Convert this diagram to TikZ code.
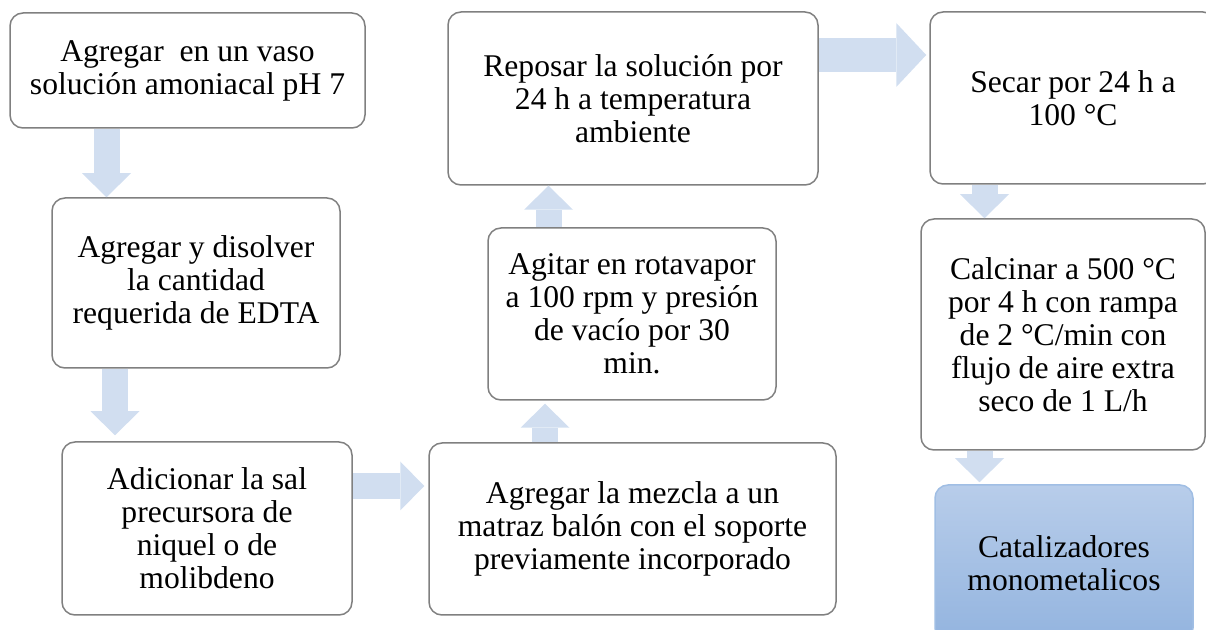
\documentclass[tikz,border=0pt]{standalone}
\usepackage{fontspec}
\setmainfont{Liberation Serif}
\usetikzlibrary{arrows.meta,shadings}
\definecolor{flechaazul}{RGB}{209,222,240}
\definecolor{azularriba}{RGB}{184,205,234}
\definecolor{azulabajo}{RGB}{147,180,223}
\definecolor{azulborde}{RGB}{160,190,228}
\tikzset{
  caja/.style={draw=black!50, line width=0.75pt, fill=white, rounded corners=6.5pt,
    align=center, inner sep=2pt, font=\fontsize{15.8}{16.5}\selectfont},
  flecha/.style={draw=flechaazul, line width=13pt,
    -{Triangle[width=24.5pt,length=12pt,line width=0pt]}},
}
\begin{document}
\begin{tikzpicture}[x=0.5pt,y=-0.5pt]
        \useasboundingbox (0,0) rectangle (1206,630);

        %cajas
        \node[caja, minimum width=177.5pt, minimum height=57.5pt] (agregar) at (187.5,70.5)
          {Agregar~ en un vaso\\solución amoniacal pH 7};
        \node[caja, minimum width=144pt, minimum height=85pt] (edta) at (196,283)
          {Agregar y disolver\\la cantidad\\requerida de EDTA};
        \node[caja, minimum width=145pt, minimum height=86.5pt] (sal) at (207,528.5)
          {Adicionar la sal\\precursora de\\niquel o de\\molibdeno};
        \node[caja, minimum width=203.5pt, minimum height=86pt] (mezcla) at (632.5,529)
          {Agregar la mezcla a un\\matraz balón con el soporte\\previamente incorporado};
        \node[caja, minimum width=144pt, minimum height=86pt] (agitar) at (632,314)
          {Agitar en rotavapor\\a 100 rpm y presión\\de vacío por 30\\min.};
        \node[caja, minimum width=185pt, minimum height=86.5pt] (reposar) at (633,98.5)
          {Reposar la solución por\\24 h a temperatura\\ambiente};
        \node[caja, minimum width=143pt, minimum height=86pt] (secar) at (1073,98)
          {Secar por 24 h a\\100 °C};
        \node[caja, minimum width=142pt, minimum height=115.5pt] (calcinar) at (1063,334.5)
          {Calcinar a 500 °C\\por 4 h con rampa\\de 2 °C/min con\\flujo de aire extra\\seco de 1 L/h};
        \node[caja, draw=azulborde, top color=azularriba, bottom color=azulabajo,
          minimum width=129pt, minimum height=78pt] (final) at (1064,563)
          {Catalizadores\\monometalicos};

        %flechas
        \draw[flecha] ([xshift=-40.5pt]agregar.south) -- ([xshift=-44.75pt]edta.north);
        \draw[flecha] ([xshift=-40.5pt]edta.south) -- ([xshift=-46pt,yshift=3pt]sal.north);
        \draw[flecha] ([yshift=21.25pt]sal.east) -- ([xshift=-2pt,yshift=21.5pt]mezcla.west);
        \draw[flecha] ([xshift=-43.75pt]mezcla.north) -- ([xshift=-43.5pt,yshift=-1.5pt]agitar.south);
        \draw[flecha] ([xshift=-41.75pt]agitar.north) -- ([xshift=-42.25pt]reposar.south);
        \draw[flecha, line width=17pt, -{Triangle[width=32pt,length=15pt,line width=0pt]}]
          ([yshift=21.75pt]reposar.east) -- ([xshift=-1.5pt,yshift=21.5pt]secar.west);
        \draw[flecha] ([xshift=-44.25pt]secar.south) -- ([xshift=-39.25pt]calcinar.north);
        \draw[flecha] ([xshift=-41.75pt]calcinar.south) -- ([xshift=-42.25pt,yshift=1pt]final.north);

    \end{tikzpicture}
\end{document}
